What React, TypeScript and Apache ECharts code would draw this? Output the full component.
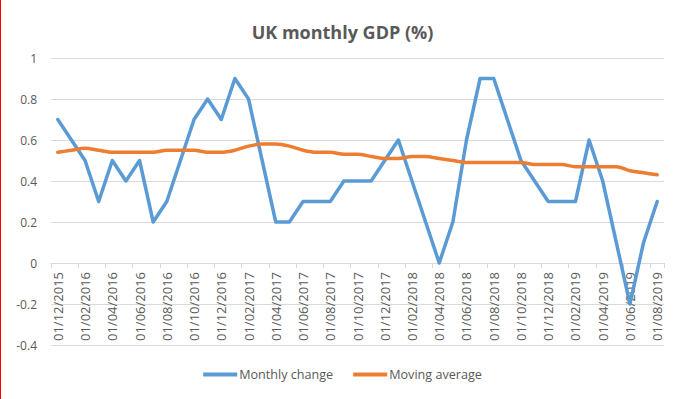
import React, { useEffect, useRef } from "react";
import * as echarts from "echarts";

const categories = [
  "01/12/2015",
  "01/01/2016", "01/02/2016", "01/03/2016", "01/04/2016", "01/05/2016", "01/06/2016",
  "01/07/2016", "01/08/2016", "01/09/2016", "01/10/2016", "01/11/2016", "01/12/2016",
  "01/01/2017", "01/02/2017", "01/03/2017", "01/04/2017", "01/05/2017", "01/06/2017",
  "01/07/2017", "01/08/2017", "01/09/2017", "01/10/2017", "01/11/2017", "01/12/2017",
  "01/01/2018", "01/02/2018", "01/03/2018", "01/04/2018", "01/05/2018", "01/06/2018",
  "01/07/2018", "01/08/2018", "01/09/2018", "01/10/2018", "01/11/2018", "01/12/2018",
  "01/01/2019", "01/02/2019", "01/03/2019", "01/04/2019", "01/05/2019", "01/06/2019",
  "01/07/2019", "01/08/2019",
];

const monthlyChange = [
  0.7,
  0.6, 0.5, 0.3, 0.5, 0.4, 0.5, 0.2, 0.3, 0.5, 0.7, 0.8, 0.7,
  0.9, 0.8, 0.5, 0.2, 0.2, 0.3, 0.3, 0.3, 0.4, 0.4, 0.4, 0.5,
  0.6, 0.4, 0.2, 0.0, 0.2, 0.6, 0.9, 0.9, 0.7, 0.5, 0.4, 0.3,
  0.3, 0.3, 0.6, 0.4, 0.1, -0.2, 0.1, 0.3,
];

const movingAverage = [
  0.54,
  0.55, 0.56, 0.55, 0.54, 0.54, 0.54, 0.54, 0.55, 0.55, 0.55, 0.54, 0.54,
  0.55, 0.57, 0.58, 0.58, 0.57, 0.55, 0.54, 0.54, 0.53, 0.53, 0.52, 0.51,
  0.51, 0.52, 0.52, 0.51, 0.50, 0.49, 0.49, 0.49, 0.49, 0.49, 0.48, 0.48,
  0.48, 0.47, 0.47, 0.47, 0.47, 0.45, 0.44, 0.43,
];

const seriesNames = ["Monthly change", "Moving average"];
const titleText = "UK monthly GDP (%)";

const Y_MIN = -0.4;
const Y_MAX = 1;
const GRID_TOP = 58;
const GRID_BOTTOM = 54;
const CHART_H = 399;

export default function App() {
  const ref = useRef<HTMLDivElement>(null);
  useEffect(() => {
    if (!ref.current) return;
    const chart = echarts.init(ref.current, undefined, { renderer: "svg" });
    const font = "'Open Sans', 'Liberation Sans', sans-serif";
    const plotH = CHART_H - GRID_TOP - GRID_BOTTOM;
    // place the category axis at the value-axis zero line (as Excel does)
    const zeroOffset = -((0 - Y_MIN) / (Y_MAX - Y_MIN)) * plotH;
    chart.setOption({
      animation: false,
      backgroundColor: "#ffffff",
      title: {
        text: titleText,
        left: "center",
        top: 18,
        textStyle: { fontFamily: font, fontSize: 18, fontWeight: "bold", color: "#595959" },
      },
      grid: {
        left: 50,
        right: 20,
        top: GRID_TOP,
        bottom: GRID_BOTTOM,
        containLabel: false,
        outerBoundsMode: "none",
      },
      legend: {
        bottom: 13,
        left: "center",
        itemGap: 20,
        itemWidth: 34,
        itemHeight: 4,
        icon: "rect",
        data: seriesNames,
        textStyle: { fontFamily: font, fontSize: 12.6, color: "#595959", padding: [0, 0, 0, -3] },
      },
      xAxis: {
        type: "category",
        data: categories,
        boundaryGap: true,
        offset: zeroOffset,
        axisLine: { show: true, onZero: false, lineStyle: { color: "#d9d9d9", width: 1 } },
        axisTick: { show: true, interval: 1, length: 5, lineStyle: { color: "#d9d9d9" } },
        axisLabel: {
          interval: 1,
          rotate: 90,
          margin: 9,
          fontFamily: font,
          fontSize: 13,
          color: "#595959",
        },
        splitLine: { show: false },
      },
      yAxis: {
        type: "value",
        min: Y_MIN,
        max: Y_MAX,
        interval: 0.2,
        axisLine: { show: false },
        axisTick: { show: false },
        axisLabel: {
          margin: 14,
          fontFamily: font,
          fontSize: 12,
          color: "#595959",
          formatter: (v: number) => String(Math.round(v * 10) / 10),
        },
        splitLine: { lineStyle: { color: "#d9d9d9", width: 1 } },
      },
      series: [
        {
          name: seriesNames[0],
          type: "line",
          data: monthlyChange,
          showSymbol: false,
          symbol: "none",
          lineStyle: { color: "#5B9BD5", width: 3.5, join: "round", cap: "round" },
          itemStyle: { color: "#5B9BD5" },
          z: 3,
        },
        {
          name: seriesNames[1],
          type: "line",
          data: movingAverage,
          showSymbol: false,
          symbol: "none",
          smooth: 0.3,
          lineStyle: { color: "#ED7D31", width: 3.5, join: "round", cap: "round" },
          itemStyle: { color: "#ED7D31" },
          z: 4,
        },
      ],
    });
    return () => chart.dispose();
  }, []);

  return (
    <div
      style={{
        position: "fixed",
        left: 0,
        top: 0,
        width: 683,
        height: 399,
        boxSizing: "border-box",
        border: "1px solid #ff0000",
        borderLeftWidth: 2,
        background: "#fff",
      }}
    >
      <div
        style={{
          position: "absolute",
          left: 1,
          top: 0,
          width: 678,
          height: 397,
          boxSizing: "border-box",
          borderLeft: "1px solid #d9d9d9",
          borderRight: "1px solid #d9d9d9",
        }}
      >
        <div ref={ref} style={{ position: "absolute", left: -3, top: -1, width: 683, height: CHART_H }} />
      </div>
    </div>
  );
}
